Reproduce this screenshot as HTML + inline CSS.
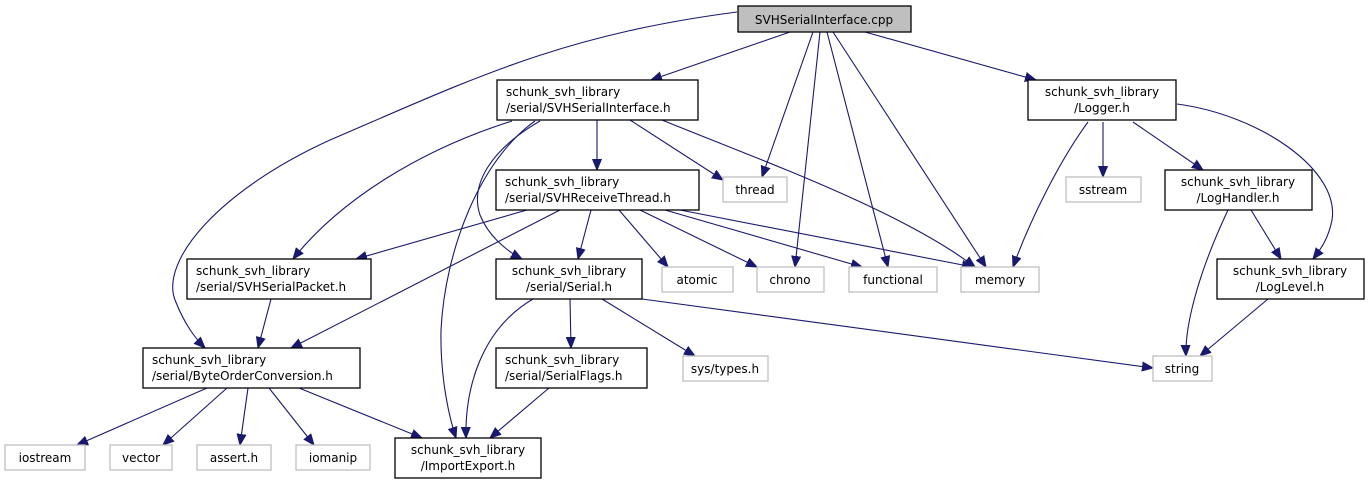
<!DOCTYPE html>
<html><head><meta charset="utf-8"><style>
html,body{margin:0;padding:0;background:#fff}
svg{display:block}
text{font-family:"DejaVu Sans","Liberation Sans",sans-serif;font-size:12px;fill:#000}
.n{fill:#fff;stroke:#000;stroke-width:1.3}
.g{fill:#fff;stroke:#bfbfbf;stroke-width:1.3}
.e{fill:none;stroke:#191970;stroke-width:1.1}
</style></head><body>
<svg width="1369" height="484" viewBox="0 0 1369 484">
<defs><marker id="a" markerUnits="userSpaceOnUse" markerWidth="12" markerHeight="10" refX="11" refY="5" orient="auto"><path d="M0,0.5 L11,5 L0,9.5z" fill="#191970" stroke="#191970"/></marker></defs>
<g class="e" marker-end="url(#a)">
<path d="M790,32 L651,80"/>
<path d="M737,12 C560,35 470,80 330,140 C220,190 160,260 175,300 C185,325 195,338 205,348"/>
<path d="M813,32 L762,177"/>
<path d="M820,32 L795,267"/>
<path d="M827,32 L888,267"/>
<path d="M833,32 L986,267"/>
<path d="M865,32 L1036,80"/>
<path d="M597,120 L597,170"/>
<path d="M630,120 L723,180"/>
<path d="M662,120 C760,160 900,210 975,267"/>
<path d="M512,121 C420,150 340,200 293,259"/>
<path d="M540,121 C490,150 470,185 480,215 C488,235 505,250 522,259"/>
<path d="M535,121 C480,160 445,250 441,330 C440,380 450,420 456,438"/>
<path d="M527,210 L356,259"/>
<path d="M560,210 L291,348"/>
<path d="M591,210 L578,259"/>
<path d="M619,210 L668,267"/>
<path d="M640,210 L757,267"/>
<path d="M665,210 L862,267"/>
<path d="M680,210 L973,267"/>
<path d="M271,299 L258,348"/>
<path d="M533,299 C480,330 465,390 466,438"/>
<path d="M570,299 L571,348"/>
<path d="M602,299 L695,356"/>
<path d="M642,299 L1153,368"/>
<path d="M207,388 L77,445"/>
<path d="M227,388 L163,445"/>
<path d="M248,388 L240,445"/>
<path d="M269,388 L314,445"/>
<path d="M299,388 L422,438"/>
<path d="M549,388 L490,438"/>
<path d="M1088,122 C1060,160 1030,220 1013,267"/>
<path d="M1103,122 L1103,177"/>
<path d="M1133,122 L1203,170"/>
<path d="M1177,104 C1260,115 1340,170 1332,220 C1328,240 1320,250 1313,259"/>
<path d="M1228,210 C1195,280 1185,330 1186,356"/>
<path d="M1251,210 L1281,259"/>
<path d="M1268,299 L1200,356"/>
</g>
<rect x="738" y="6" width="173" height="26" fill="#bfbfbf" stroke="#000" stroke-width="1.3"/>
<text x="824" y="24" text-anchor="middle">SVHSerialInterface.cpp</text>

<rect class="n" x="497" y="80" width="201" height="40"/>
<text x="506" y="96">schunk_svh_library</text><text x="506" y="112">/serial/SVHSerialInterface.h</text>
<rect class="n" x="1028" y="80" width="148" height="40"/>
<text x="1102" y="96" text-anchor="middle">schunk_svh_library</text><text x="1102" y="112" text-anchor="middle">/Logger.h</text>
<rect class="n" x="496" y="170" width="203" height="40"/>
<text x="505" y="186">schunk_svh_library</text><text x="505" y="202">/serial/SVHReceiveThread.h</text>
<rect class="n" x="1165" y="170" width="147" height="40"/>
<text x="1238" y="186" text-anchor="middle">schunk_svh_library</text><text x="1238" y="202" text-anchor="middle">/LogHandler.h</text>
<rect class="n" x="187" y="259" width="184" height="40"/>
<text x="196" y="275">schunk_svh_library</text><text x="196" y="291">/serial/SVHSerialPacket.h</text>
<rect class="n" x="496" y="259" width="146" height="40"/>
<text x="569" y="275" text-anchor="middle">schunk_svh_library</text><text x="569" y="291" text-anchor="middle">/serial/Serial.h</text>
<rect class="n" x="1217" y="259" width="147" height="40"/>
<text x="1290" y="275" text-anchor="middle">schunk_svh_library</text><text x="1290" y="291" text-anchor="middle">/LogLevel.h</text>
<rect class="n" x="143" y="348" width="217" height="40"/>
<text x="152" y="364">schunk_svh_library</text><text x="152" y="380">/serial/ByteOrderConversion.h</text>
<rect class="n" x="496" y="348" width="151" height="40"/>
<text x="505" y="364">schunk_svh_library</text><text x="505" y="380">/serial/SerialFlags.h</text>
<rect class="n" x="395" y="438" width="146" height="40"/>
<text x="468" y="454" text-anchor="middle">schunk_svh_library</text><text x="468" y="470" text-anchor="middle">/ImportExport.h</text>

<rect class="g" x="723" y="177" width="64" height="25"/><text x="755" y="194" text-anchor="middle">thread</text>
<rect class="g" x="1066" y="177" width="75" height="25"/><text x="1103" y="194" text-anchor="middle">sstream</text>
<rect class="g" x="662" y="267" width="71" height="25"/><text x="697" y="284" text-anchor="middle">atomic</text>
<rect class="g" x="757" y="267" width="67" height="25"/><text x="790" y="284" text-anchor="middle">chrono</text>
<rect class="g" x="849" y="267" width="88" height="25"/><text x="893" y="284" text-anchor="middle">functional</text>
<rect class="g" x="961" y="267" width="78" height="25"/><text x="1000" y="284" text-anchor="middle">memory</text>
<rect class="g" x="683" y="356" width="85" height="25"/><text x="725" y="373" text-anchor="middle">sys/types.h</text>
<rect class="g" x="1153" y="356" width="59" height="25"/><text x="1182" y="373" text-anchor="middle">string</text>
<rect class="g" x="5" y="445" width="80" height="25"/><text x="45" y="462" text-anchor="middle">iostream</text>
<rect class="g" x="110" y="445" width="62" height="25"/><text x="141" y="462" text-anchor="middle">vector</text>
<rect class="g" x="197" y="445" width="74" height="25"/><text x="234" y="462" text-anchor="middle">assert.h</text>
<rect class="g" x="296" y="445" width="74" height="25"/><text x="333" y="462" text-anchor="middle">iomanip</text>
</svg>
</body></html>
